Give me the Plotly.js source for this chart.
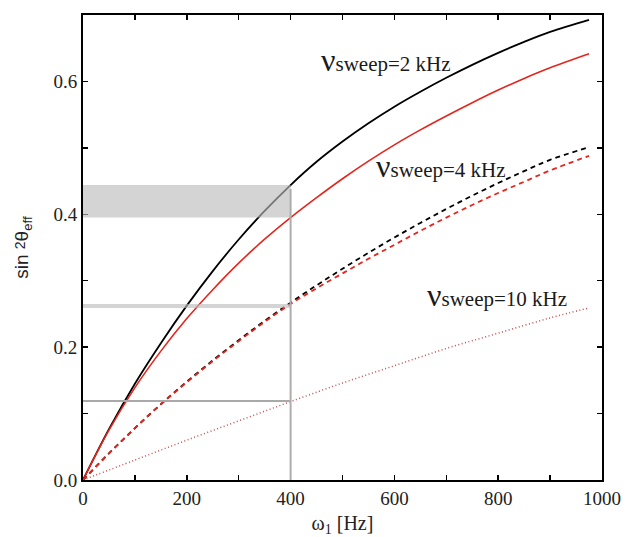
<!DOCTYPE html>
<html>
<head>
<meta charset="utf-8">
<script src="https://cdn.plot.ly/plotly-3.0.1.min.js"></script>
<style>html,body{margin:0;padding:0;background:#fff;}#chart{width:627px;height:537px;}</style>
</head>
<body>
<div id="chart"></div>
<script>
// omega_1 [Hz]
const omega = [0, 50, 100, 150, 200, 250, 300, 350, 400, 450, 500, 550, 600, 650, 700, 750, 800, 850, 900, 975];
// nu_sweep = 2 kHz
const sweep2Black = [0, 0.0765, 0.145, 0.206, 0.2625, 0.3145, 0.362, 0.405, 0.444, 0.479, 0.5095, 0.537, 0.562, 0.5845, 0.6055, 0.625, 0.643, 0.6595, 0.6745, 0.6925];
const sweep2Red   = [0, 0.075, 0.139, 0.194, 0.243, 0.2865, 0.3265, 0.3625, 0.395, 0.425, 0.4535, 0.480, 0.5045, 0.527, 0.548, 0.568, 0.587, 0.6045, 0.6205, 0.6415];
// nu_sweep = 4 kHz
const sweep4Black = [0, 0.040, 0.078, 0.114, 0.148, 0.180, 0.2105, 0.2395, 0.267, 0.293, 0.318, 0.342, 0.365, 0.387, 0.408, 0.428, 0.447, 0.465, 0.482, 0.501];
const sweep4Red   = [0, 0.040, 0.078, 0.114, 0.147, 0.179, 0.209, 0.238, 0.265, 0.2885, 0.311, 0.333, 0.354, 0.375, 0.395, 0.414, 0.432, 0.449, 0.466, 0.488];
// nu_sweep = 10 kHz
const omega10 = [0, 100, 200, 300, 400, 500, 600, 700, 800, 900, 975];
const sweep10Red = [0, 0.030, 0.060, 0.089, 0.118, 0.146, 0.172, 0.198, 0.221, 0.244, 0.259];

// reference marks
const bandHigh = [0.395, 0.444];
const bandMid = [0.259, 0.265];
const lineLow = 0.119;
const omegaRef = 400;

const xTickVals = [0, 100, 200, 300, 400, 500, 600, 700, 800, 900, 1000];
const xTickText = ['0', '', '200', '', '400', '', '600', '', '800', '', '1000'];
const yTickVals = [0, 0.1, 0.2, 0.3, 0.4, 0.5, 0.6, 0.7];
const yTickText = ['0.0', '', '0.2', '', '0.4', '', '0.6', ''];

const labels = [
  {text: 'sweep=2 kHz', x: 455, y: 0.632},
  {text: 'sweep=4 kHz', x: 561, y: 0.473},
  {text: 'sweep=10 kHz', x: 659, y: 0.278}
];

const RED = '#e3261d';
const traces = [
  {x: omega, y: sweep2Black, line: {color: '#000', width: 1.8}},
  {x: omega, y: sweep2Red, line: {color: RED, width: 1.6}},
  {x: omega, y: sweep4Black, line: {color: '#000', width: 1.8, dash: '5px,4px'}},
  {x: omega, y: sweep4Red, line: {color: RED, width: 1.8, dash: '5px,4px'}},
  {x: omega10, y: sweep10Red, line: {color: '#c05252', width: 1.5, dash: '1px,2.5px'}}
].map(t => ({
  type: 'scatter', mode: 'lines', x: t.x, y: t.y,
  line: Object.assign({shape: 'spline', smoothing: 1}, t.line),
  hoverinfo: 'skip', showlegend: false
}));

const shapes = [
  {type: 'rect', xref: 'x', yref: 'y', x0: 0, x1: omegaRef, y0: bandHigh[0], y1: bandHigh[1], fillcolor: 'rgba(187,187,187,0.63)', line: {width: 0}, layer: 'above'},
  {type: 'rect', xref: 'x', yref: 'y', x0: 0, x1: omegaRef, y0: bandMid[0], y1: bandMid[1], fillcolor: 'rgba(187,187,187,0.63)', line: {width: 0}, layer: 'above'},
  {type: 'line', xref: 'x', yref: 'y', x0: 0, x1: omegaRef, y0: lineLow, y1: lineLow, line: {color: '#a9a9a9', width: 2}, layer: 'above'},
  {type: 'line', xref: 'x', yref: 'y', x0: omegaRef, x1: omegaRef, y0: 0, y1: 0.438, line: {color: '#adadad', width: 2}, layer: 'above'}
];

const annotations = labels.map(l => ({
  xref: 'x', yref: 'y', x: l.x, y: l.y, xanchor: 'left', yanchor: 'middle', showarrow: false,
  text: '<span style="font-size:32px">ν</span>' + l.text,
  font: {family: 'Liberation Serif', size: 21, color: '#1a1a1a'}
}));

const axisCommon = {
  showline: true, linecolor: '#000', linewidth: 2, mirror: 'ticks',
  ticks: 'inside', ticklen: 5, tickwidth: 1.5, tickcolor: '#000',
  showgrid: false, zeroline: false,
  tickfont: {family: 'Liberation Serif', size: 19, color: '#222'},
  tickmode: 'array'
};

const layout = {
  width: 627, height: 537,
  margin: {l: 83, r: 25, t: 15, b: 57},
  paper_bgcolor: '#fff', plot_bgcolor: '#fff',
  showlegend: false,
  xaxis: Object.assign({}, axisCommon, {
    range: [0, 1000], tickvals: xTickVals, ticktext: xTickText,
    title: {text: 'ω<sub>1</sub> [Hz]', font: {family: 'Liberation Serif', size: 20, color: '#222'}, standoff: 8}
  }),
  yaxis: Object.assign({}, axisCommon, {
    range: [0, 0.7], tickvals: yTickVals, ticktext: yTickText,
    title: {text: 'sin <span style="font-size:14px;baseline-shift:3px">2</span>θ<sub>eff</sub>', font: {family: 'Liberation Sans', size: 19, color: '#222'}, standoff: 20}
  }),
  shapes: shapes,
  annotations: annotations
};

Plotly.newPlot('chart', traces, layout, {staticPlot: true, displayModeBar: false});
</script>
</body>
</html>
